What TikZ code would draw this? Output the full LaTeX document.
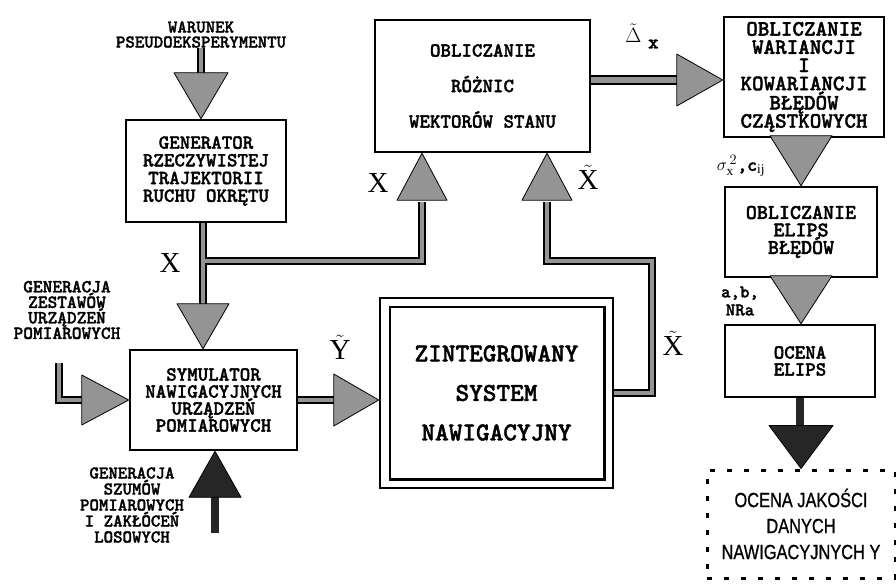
\documentclass[tikz,border=0pt]{standalone}
\usepackage{fontspec}
\setmainfont{Liberation Serif}
\newfontfamily\narrowf[FakeStretch=0.8, FakeBold=0.8]{Liberation Sans}
\newfontfamily\twf[FakeBold=1.6]{lmmonolt10-bold.otf}
\usetikzlibrary{calc}
\definecolor{shade}{gray}{0.58}
\newcommand\tfont[2]{\twf\fontsize{#1}{#2}\selectfont}
\begin{document}
\begin{tikzpicture}[x=1pt,y=-1pt,
 blk/.style={draw, line width=2.5pt, align=center, inner sep=0pt},
 lbl/.style={align=center, inner sep=0pt},
 pipe/.style={draw=black, line width=1.6pt, double=shade, double distance=4.5pt},
 darkpipe/.style={draw=black!85, line width=8pt},
 tri/.style={fill=shade, draw=black, line width=0.8pt, line join=round},
 darktri/.style={fill=black!85, draw=black, line width=0.8pt, line join=round},
 mathlbl/.style={inner sep=0pt, font=\fontsize{29}{29}\selectfont}
]
\useasboundingbox (0,0) rectangle (896,585);

% ---------- blocks ----------
\node[lbl, font=\tfont{18}{15}] (warunek) at (201,34.5) {WARUNEK\\PSEUDOEKSPERYMENTU};
\node[blk, minimum width=160pt, minimum height=102pt, font=\tfont{20}{17.7}] (gen) at (206,171)
  {GENERATOR\\RZECZYWISTEJ\\TRAJEKTORII\\RUCHU OKRĘTU};
\node[blk, minimum width=215pt, minimum height=132pt, font=\tfont{20}{35.5}] (roz) at (482.5,86)
  {OBLICZANIE\\RÓŻNIC\\WEKTORÓW STANU};
\node[blk, minimum width=160pt, minimum height=120pt, font=\tfont{22}{18.2}] (war) at (804,77)
  {OBLICZANIE\\WARIANCJI\\I\\KOWARIANCJI\\BŁĘDÓW\\CZĄSTKOWYCH};
\node[blk, minimum width=152pt, minimum height=90pt, font=\tfont{21}{17.5}] (eli) at (801,232)
  {OBLICZANIE\\ELIPS\\BŁĘDÓW};
\node[blk, minimum width=150pt, minimum height=72pt, font=\tfont{20}{17}] (oce) at (800,361)
  {OCENA\\ELIPS};
\node[blk, minimum width=167pt, minimum height=100pt, font=\tfont{20}{17}] (sym) at (213.5,400)
  {SYMULATOR\\NAWIGACYJNYCH\\URZĄDZEŃ\\POMIAROWYCH};
\node[blk, minimum width=233pt, minimum height=190pt, font=\tfont{26}{39.5}] (zin) at (496.5,393)
  {ZINTEGROWANY\\SYSTEM\\NAWIGACYJNY};
\draw[line width=2.5pt] ($(zin.north west)+(11,10)$) rectangle ($(zin.south east)+(-10,-10)$);
\node[draw, line width=3pt, dash pattern=on 5pt off 12pt, minimum width=188pt, minimum height=108pt,
  align=center, inner sep=0pt, font=\narrowf\fontsize{20.5}{26}\selectfont] (res) at (801,524)
  {OCENA JAKOŚCI\\DANYCH\\NAWIGACYJNYCH Y};

\node[lbl, font=\tfont{18.5}{15.5}] (genzest) at (67,310) {GENERACJA\\ZESTAWÓW\\URZĄDZEŃ\\POMIAROWYCH};
\node[lbl, font=\tfont{18}{16}] (genszum) at (132,505) {GENERACJA\\SZUMÓW\\POMIAROWYCH\\I ZAKŁÓCEŃ\\LOSOWYCH};

% ---------- helper coordinates ----------
\coordinate (xa) at (203,0);
\coordinate (xb) at (422,0);
\coordinate (xc) at (547,0);
\coordinate (xn) at (215,0);
\coordinate (yd) at (0,80);

% ---------- pipes ----------
\draw[pipe] (warunek.south) -- (201,78);
\draw[pipe] (gen.south -| xa) -- (203,306) (203,261) -| (422,202);
\draw[pipe] (zin.east) -| (652,261) -| (547,202);
\draw[pipe] (sym.east) -- (338,400);
\draw[pipe] (59,363) |- (86,400);
\draw[pipe, double distance=6.5pt] (roz.east |- yd) -- (680,80);
\draw[darkpipe] (215,533) -- (215,494);
\draw[darkpipe] (oce.south) -- ++(0,33);

% ---------- arrow heads ----------
\draw[tri] (warunek.south |- gen.north) -- ++(-27,-46) -- ++(54,0) -- cycle;
\draw[tri] (sym.north -| xa) -- ++(-26,-45) -- ++(52,0) -- cycle;
\draw[tri] (roz.south -| xb) -- ++(-25,47) -- ++(50,0) -- cycle;
\draw[tri] (roz.south -| xc) -- ++(-25,47) -- ++(50,0) -- cycle;
\draw[tri] (zin.west |- sym.east) -- ++(-45,-26) -- ++(0,52) -- cycle;
\draw[tri] (sym.west) -- ++(-47,-25) -- ++(0,50) -- cycle;
\draw[darktri] (sym.south -| xn) -- ++(-26,46) -- ++(52,0) -- cycle;
\draw[tri] (war.west |- yd) -- ++(-46,-26) -- ++(0,52) -- cycle;
\draw[tri] (eli.north) -- ++(-31,-50) -- ++(62,0) -- cycle;
\draw[tri] (oce.north -| eli.north) -- ++(-31,-48) -- ++(62,0) -- cycle;
\draw[darktri] (res.north) -- ++(-32,-43) -- ++(64,0) -- cycle;

% ---------- labels ----------
\node[mathlbl] (lx1) at (170,263) {$\mathrm{X}$};
\node[mathlbl] (lx2) at (378,183) {$\mathrm{X}$};
\node[mathlbl] (lx3) at (588,177) {$\tilde{\mathrm{X}}$};
\node[mathlbl] (lx4) at (673,343) {$\tilde{\mathrm{X}}$};
\node[mathlbl] (ly) at (340,347) {$\tilde{\mathrm{Y}}$};
\node[inner sep=0pt, font=\fontsize{20}{20}\selectfont] (ld) at (642,36)
  {$\tilde{\Delta}$\,\,\raisebox{-6pt}{\tfont{20}{20}x}};
\node[lbl, font=\tfont{19}{19}] (lsig) at (741,166) {$\sigma_{\mathrm{x}}^{\,2}$,c$_{\mathrm{ij}}$};
\node[lbl, font=\tfont{18}{18}] (lab) at (740,301) {a,b,\\NRa};
\end{tikzpicture}
\end{document}
